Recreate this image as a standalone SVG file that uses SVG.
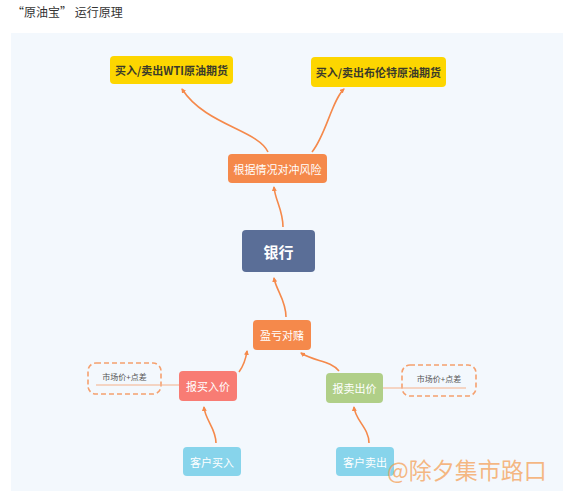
<svg xmlns="http://www.w3.org/2000/svg" width="573" height="502" viewBox="0 0 573 502">
<defs>
<marker id="ah" viewBox="0 0 10 10" refX="8" refY="5" markerWidth="5" markerHeight="5" orient="auto-start-reverse" markerUnits="userSpaceOnUse">
<path d="M0,0 L10,5 L0,10 z" fill="#F5894B"/>
</marker>
<style>
.t{font-family:"Noto Sans CJK SC","Liberation Sans",sans-serif;text-anchor:middle;dominant-baseline:central}
.w{fill:#fff;font-size:11px}
.y{fill:#3b3b2a;font-size:11px;font-weight:bold}
.c{fill:none;stroke:#F5894B;stroke-width:1.6;marker-end:url(#ah)}
.d{fill:#F3F8FD;stroke:#F5A06E;stroke-width:1.6;stroke-dasharray:5 3}
.s{fill:#555;font-size:8px}
</style>
</defs>
<rect width="573" height="502" fill="#fff"/>
<text x="12" y="17" font-family="Noto Sans CJK SC,Liberation Sans,sans-serif" font-size="12" fill="#333">“原油宝” 运行原理</text>
<rect x="11" y="33" width="552" height="458" fill="#F3F8FD"/>

<g id="note-left"><rect class="d" x="88" y="363" width="73" height="31" rx="8"/><text class="t s" x="124.5" y="376">市场价+点差</text></g>
<g id="note-right"><rect class="d" x="402" y="365" width="74" height="31" rx="8"/><text class="t s" x="439" y="378">市场价+点差</text></g>

<g id="connectors">
<path class="c" d="M268,152 C258,130 205,125 182,89"/>
<path class="c" d="M312,152 C326,135 332,100 344,89"/>
<path class="c" d="M283,227 C283,210 275,200 274,187"/>
<path class="c" d="M286,317 C286,300 276,290 274,278"/>
<path class="c" d="M239,372 C244,365 246,358 247,351"/>
<path class="c" d="M339,371 C330,360 315,362 301,353"/>
<path class="c" d="M216,443 C216,428 205,420 204,407"/>
<path class="c" d="M369,443 C369,428 355,420 354,407"/>
<path d="M96,385 H179" stroke="#F5B08A" stroke-width="1.2"/>
<path d="M383,388 H466" stroke="#F5B08A" stroke-width="1.2"/>
</g>

<g id="wti"><rect x="110" y="56" width="123" height="28" rx="4" fill="#FDD600"/><text class="t y" x="171.5" y="70">买入/卖出WTI原油期货</text></g>
<g id="brent"><rect x="311" y="57" width="135" height="30" rx="4" fill="#FDD600"/><text class="t y" x="378.5" y="72">买入/卖出布伦特原油期货</text></g>
<g id="hedge"><rect x="228" y="154" width="99" height="29" rx="4" fill="#F5894B"/><text class="t w" x="277.5" y="168.5">根据情况对冲风险</text></g>
<g id="bank"><rect x="242" y="230" width="73" height="42" rx="4" fill="#5A6E97"/><text class="t" x="278.5" y="251" fill="#fff" font-size="15" font-weight="bold">银行</text></g>
<g id="bet"><rect x="253" y="320" width="58" height="30" rx="4" fill="#F5894B"/><text class="t w" x="282" y="335">盈亏对赌</text></g>
<g id="buyprice"><rect x="179" y="371" width="58" height="30" rx="4" fill="#F87C74"/><text class="t w" x="208" y="386">报买入价</text></g>
<g id="sellprice"><rect x="326" y="373" width="57" height="30" rx="4" fill="#B0CF88"/><text class="t w" x="354.5" y="388">报卖出价</text></g>
<g id="custbuy"><rect x="183" y="447" width="58" height="29" rx="4" fill="#87D4EB"/><text class="t w" x="212" y="461.5">客户买入</text></g>
<g id="custsell"><rect x="336" y="447" width="58" height="29" rx="4" fill="#87D4EB"/><text class="t w" x="365" y="461.5">客户卖出</text></g>
<text x="387" y="479" font-family="Noto Sans CJK SC,Liberation Sans,sans-serif" font-size="23" fill="#F5A25A" fill-opacity="0.75">@除夕集市路口</text>
</svg>
